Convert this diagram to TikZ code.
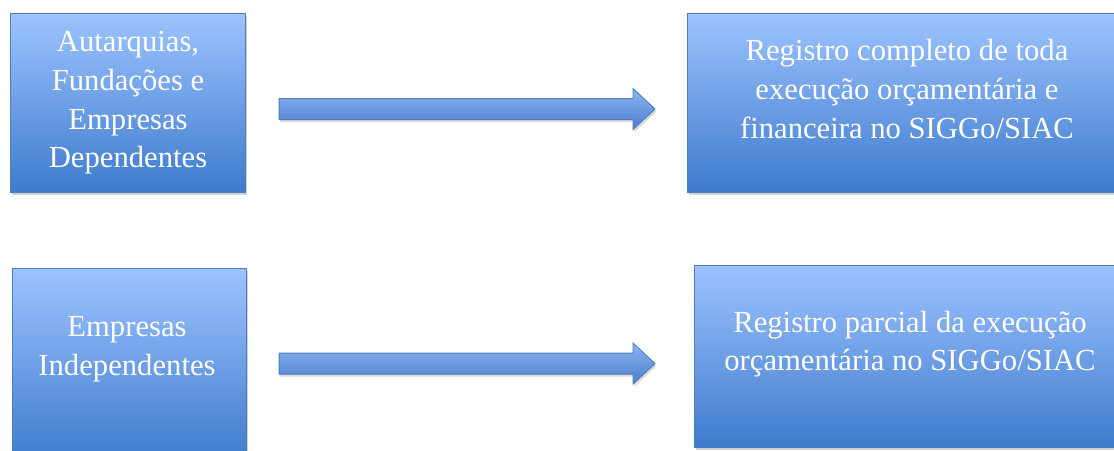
\documentclass[tikz,border=0pt]{standalone}
\usepackage{fontspec}
\setmainfont{Liberation Serif}
\usetikzlibrary{calc, shadows}

\definecolor{boxtop}{RGB}{157,195,255}
\definecolor{boxbot}{RGB}{62,123,204}
\definecolor{boxline}{RGB}{79,125,188}
\definecolor{arrtop}{RGB}{140,180,240}
\definecolor{arrbot}{RGB}{74,128,206}

\tikzset{
  orgbox/.style={draw=boxline, line width=0.8pt, top color=boxtop, bottom color=boxbot,
    inner sep=0pt, anchor=north west,
    drop shadow={shadow xshift=1.2pt, shadow yshift=-2.2pt, opacity=0.3, fill=black!60}},
  boxtext/.style={text=white, align=center, inner sep=0pt, font=\fontsize{23}{29}\selectfont},
  flowarrow/.style={draw=boxline, line width=0.7pt, top color=arrtop, bottom color=arrbot,
    drop shadow={shadow xshift=1pt, shadow yshift=-2pt, opacity=0.25, fill=black!60}}
}

\begin{document}
\begin{tikzpicture}[x=0.75pt, y=-0.75pt]
\useasboundingbox (0,0) rectangle (1114,450);

% boxes
\node[orgbox, minimum width=235*0.75pt, minimum height=179*0.75pt] (aut) at (10,13) {};
\node[orgbox, minimum width=440*0.75pt, minimum height=179*0.75pt] (reg) at (687,13) {};
\node[orgbox, minimum width=234*0.75pt, minimum height=195*0.75pt] (ind) at (12,268) {};
\node[orgbox, minimum width=440*0.75pt, minimum height=182*0.75pt] (par) at (694,265) {};

% texts
\node[boxtext] (auttxt) at (128,103) {Autarquias,\\Fundações e\\Empresas\\Dependentes};
\node[boxtext] (regtxt) at (907,89) {Registro completo de toda\\execução orçamentária e\\financeira no SIGGo/SIAC};
\node[boxtext] (indtxt) at (127,349.5) {Empresas\\Independentes};
\node[boxtext] (partxt) at (910,344) {Registro parcial da execução\\orçamentária no SIGGo/SIAC};

% arrows
\coordinate (a1s) at ($(aut.east)+(33,6)$);
\coordinate (a1e) at ($(reg.west)+(-32,6)$);
\draw[flowarrow] ($(a1s)+(0,-10.5)$) -- ($(a1e)+(-22,-10.5)$) -- ($(a1e)+(-22,-20.5)$)
  -- (a1e) -- ($(a1e)+(-22,20.5)$) -- ($(a1e)+(-22,10.5)$) -- ($(a1s)+(0,10.5)$) -- cycle;

\coordinate (a2s) at ($(ind.east)+(32,-2.5)$);
\coordinate (a2e) at ($(par.west)+(-39,7)$);
\draw[flowarrow] ($(a2s)+(0,-10.5)$) -- ($(a2e)+(-22,-10.5)$) -- ($(a2e)+(-22,-20.5)$)
  -- (a2e) -- ($(a2e)+(-22,20.5)$) -- ($(a2e)+(-22,10.5)$) -- ($(a2s)+(0,10.5)$) -- cycle;
\end{tikzpicture}
\end{document}
